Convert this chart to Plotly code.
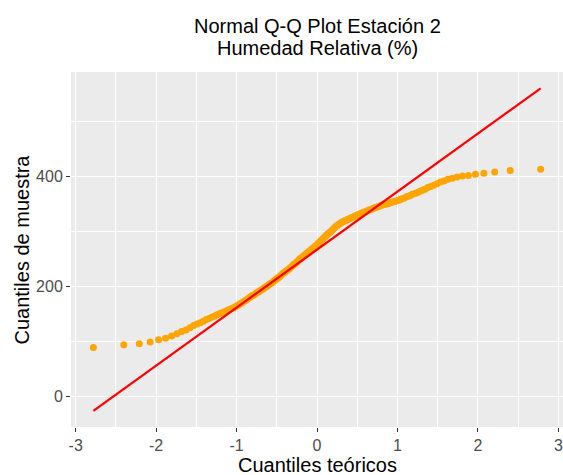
from statistics import NormalDist
import plotly.graph_objects as go

# Sorted sample values (Humedad Relativa, Estación 2)
sample_values = [
    89, 94, 96, 99, 103, 106, 110, 114, 118, 121,
    125, 129, 132, 134, 137, 140, 142, 144, 146, 148,
    150, 152, 153, 155, 157, 158, 160, 161, 163, 165,
    167, 169, 171, 173, 175, 177, 179, 181, 183, 184,
    186, 188, 190, 191, 193, 195, 196, 198, 200, 201,
    203, 205, 206, 208, 210, 212, 214, 215, 217, 219,
    221, 223, 225, 226, 228, 230, 231, 233, 235, 237,
    239, 241, 242, 244, 246, 248, 250, 252, 253, 255,
    257, 258, 260, 262, 263, 265, 267, 268, 270, 272,
    273, 275, 277, 279, 281, 283, 285, 287, 289, 291,
    293, 295, 297, 298, 300, 302, 304, 306, 308, 310,
    311, 313, 314, 316, 317, 318, 319, 320, 321, 322,
    323, 324, 325, 326, 327, 328, 329, 330, 331, 332,
    333, 334, 335, 336, 337, 338, 339, 340, 341, 342,
    343, 344, 345, 346, 347, 348, 349, 350, 350, 351,
    352, 353, 354, 355, 356, 357, 358, 360, 361, 363,
    364, 366, 368, 369, 371, 373, 375, 377, 380, 382,
    384, 387, 390, 392, 395, 397, 399, 401, 402, 404,
    406, 408, 411, 413,
]

# Reference line
line_intercept = 267
line_slope = 105.5

title_lines = ["Normal Q-Q Plot Estación 2", "Humedad Relativa (%)"]
x_title = "Cuantiles teóricos"
y_title = "Cuantiles de muestra"
x_ticks = [-3, -2, -1, 0, 1, 2, 3]
y_ticks = [0, 200, 400]

n = len(sample_values)
nd = NormalDist()
theoretical = [nd.inv_cdf((i + 0.5) / n) for i in range(n)]
line_x = [theoretical[0], theoretical[-1]]
line_y = [line_intercept + line_slope * v for v in line_x]

FONT = "Liberation Sans, Arial, sans-serif"

# panel geometry in pixels
W, H = 563, 475
L, R, T, B = 71, 0, 72, 48
PH = H - T - B


def py(p):
    return (H - B - p) / PH


fig = go.Figure()
fig.add_trace(go.Scatter(
    x=theoretical, y=sample_values, mode="markers",
    marker=dict(color="#FFA500", size=7, line=dict(width=0)),
    showlegend=False, hoverinfo="x+y",
))
fig.add_trace(go.Scatter(
    x=line_x, y=line_y, mode="lines",
    line=dict(color="#FF0000", width=2.3),
    showlegend=False,
))

axis_common = dict(
    showgrid=True, gridcolor="white", gridwidth=1.1,
    zeroline=False, showline=False, automargin=False,
    ticks="outside", ticklen=4, tickwidth=1.1, tickcolor="#333333",
    tickfont=dict(family=FONT, size=16, color="#4D4D4D"),
)

fig.update_xaxes(
    **axis_common,
    range=[-3.058, 3.058],
    tickmode="array", tickvals=x_ticks, ticktext=[str(t) for t in x_ticks],
    minor=dict(tickmode="array", tickvals=[-2.5, -1.5, -0.5, 0.5, 1.5, 2.5],
               showgrid=True, gridcolor="white", gridwidth=0.6),
)
fig.update_yaxes(
    **axis_common,
    range=[-55.5, 590],
    tickmode="array", tickvals=y_ticks, ticktext=[str(t) for t in y_ticks],
    minor=dict(tickmode="array", tickvals=[100, 300, 500],
               showgrid=True, gridcolor="white", gridwidth=0.6),
)

annotations = [
    dict(text=title_lines[0], x=0.5, y=py(26), xref="paper", yref="paper",
         xanchor="center", yanchor="middle", showarrow=False,
         font=dict(family=FONT, size=20, color="black")),
    dict(text=title_lines[1], x=0.5, y=py(48), xref="paper", yref="paper",
         xanchor="center", yanchor="middle", showarrow=False,
         font=dict(family=FONT, size=20, color="black")),
    dict(text=x_title, x=0.5, y=py(465), xref="paper", yref="paper",
         xanchor="center", yanchor="middle", showarrow=False,
         font=dict(family=FONT, size=20, color="black")),
    dict(text=y_title, x=(21 - L) / (W - L - R), y=0.5, xref="paper", yref="paper",
         xanchor="center", yanchor="middle", showarrow=False, textangle=-90,
         font=dict(family=FONT, size=20, color="black")),
]

fig.update_layout(
    width=W, height=H,
    margin=dict(l=L, r=R, t=T, b=B, autoexpand=False),
    paper_bgcolor="white", plot_bgcolor="#EBEBEB",
    font=dict(family=FONT),
    annotations=annotations,
)

fig.write_html(
    "out.html",
    config={"displayModeBar": False},
    post_script="document.body.style.margin='0';document.body.style.overflow='hidden';",
)
